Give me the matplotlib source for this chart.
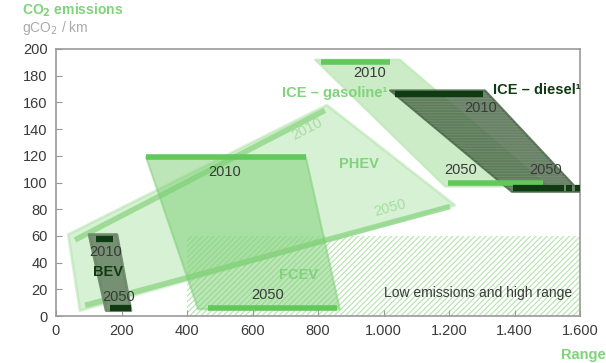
import matplotlib
matplotlib.use('Agg')
import matplotlib.pyplot as plt
from matplotlib.patches import Polygon, Rectangle

plt.rcParams['font.family'] = ['Liberation Sans', 'DejaVu Sans']

# area outlines (range km, gCO2/km)
PHEV_AREA     = [(37, 61), (827, 158), (1218, 83), (73, 4)]
FCEV_AREA     = [(275, 119), (763, 119), (867, 5), (434, 5)]
GASOLINE_AREA = [(791, 192), (1050, 192), (1502, 97), (1188, 97)]
DIESEL_AREA   = [(1020, 169), (1310, 169), (1600, 93), (1392, 93)]
BEV_AREA      = [(101, 61), (186, 61), (229, 4), (153, 4)]
LOW_AREA      = (400, 0, 1600, 60)

# 2010 / 2050 bars: (x0, x1, y)
GREEN_BARS = [(275, 763, 119), (464, 858, 6), (809, 1020, 190), (1197, 1487, 100)]
DARK_BARS  = [(1035, 1304, 166), (1395, 1550, 96), (1558, 1575, 96), (1585, 1600, 96),
              (122, 174, 58), (165, 229, 6)]
PHEV_LINES = [((58, 821), (57, 154)), ((89, 1203), (8, 82))]

XTICKS = [0, 200, 400, 600, 800, 1000, 1200, 1400, 1600]
XLABELS = ["0", "200", "400", "600", "800", "1.000", "1.200", "1.400", "1.600"]
YTICKS = list(range(0, 201, 20))

GREEN = '#62c85c'
LIGHT = '#7fd379'
DARK = '#0f3a12'
GREY_TXT = '#3a3a3a'

fig = plt.figure(figsize=(6.06, 3.63), dpi=100)
ax = fig.add_axes([56 / 606, 1 - 316 / 363, 524 / 606, 267 / 363])
ax.set_xlim(0, 1600)
ax.set_ylim(0, 200)

# hatched low emission zone
x0, y0, x1, y1 = LOW_AREA
plt.rcParams['hatch.linewidth'] = 0.8
ax.add_patch(Rectangle((x0, y0), x1 - x0, y1 - y0, facecolor='none',
                       edgecolor='#b3e3ac', hatch='//////', lw=0, zorder=1))

ax.add_patch(Polygon(PHEV_AREA, closed=True, facecolor='#a8e0a0', alpha=0.45,
                     edgecolor='#a8e0a0', lw=2, joinstyle='round', zorder=2))
for xs, ys in PHEV_LINES:
    ax.plot(xs, ys, color='#8fd688', lw=4, alpha=0.8, solid_capstyle='butt', zorder=2.5)

ax.add_patch(Polygon(FCEV_AREA, closed=True, facecolor='#7acf72', alpha=0.5,
                     edgecolor='#7acf72', lw=1.5, joinstyle='round', zorder=3))
ax.add_patch(Polygon(GASOLINE_AREA, closed=True, facecolor='#bfe8b8', alpha=0.8,
                     edgecolor='#bfe8b8', lw=1.5, joinstyle='round', zorder=3))
ax.add_patch(Polygon(DIESEL_AREA, closed=True, facecolor='#3f5e3c', alpha=0.78,
                     edgecolor='#3f5e3c', lw=1.5, joinstyle='round', zorder=4))
ax.add_patch(Polygon(DIESEL_AREA, closed=True, facecolor='none',
                     edgecolor='#8aa087', hatch='------', lw=0, alpha=0.4, zorder=4.1))
ax.add_patch(Polygon(BEV_AREA, closed=True, facecolor='#6a8767', alpha=0.9,
                     edgecolor='#6a8767', lw=2, joinstyle='round', zorder=4))

for a, b, y in GREEN_BARS:
    ax.plot([a, b], [y, y], color=GREEN, lw=4, solid_capstyle='butt', zorder=5)
for a, b, y in DARK_BARS:
    ax.plot([a, b], [y, y], color=DARK, lw=4.5, solid_capstyle='butt', zorder=5)

# labels
fs = 10.5
ax.text(516, 108, "2010", color=GREY_TXT, fontsize=fs, ha='center', va='center', zorder=6)
ax.text(647, 16, "2050", color=GREY_TXT, fontsize=fs, ha='center', va='center', zorder=6)
ax.text(740, 31, "FCEV", color=LIGHT, fontsize=fs, fontweight='bold', ha='center', va='center', zorder=6)
ax.text(765, 140, "2010", color='#a6dea0', fontsize=fs, ha='center', va='center', rotation=27, zorder=6)
ax.text(1020, 81, "2050", color='#a6dea0', fontsize=fs, ha='center', va='center', rotation=15, zorder=6)
ax.text(925, 114, "PHEV", color=LIGHT, fontsize=fs, fontweight='bold', ha='center', va='center', zorder=6)
ax.text(959, 182, "2010", color=GREY_TXT, fontsize=fs, ha='center', va='center', zorder=6)
ax.text(850, 167, "ICE \u2013 gasoline\u00b9", color=LIGHT, fontsize=fs, fontweight='bold',
        ha='center', va='center', zorder=6)
ax.text(1234, 109, "2050", color=GREY_TXT, fontsize=fs, ha='center', va='center', zorder=6)
ax.text(1468, 169, "ICE \u2013 diesel\u00b9", color=DARK, fontsize=fs, fontweight='bold',
        ha='center', va='center', zorder=6)
ax.text(1297, 156, "2010", color=GREY_TXT, fontsize=fs, ha='center', va='center', zorder=6)
ax.text(1495, 109, "2050", color=GREY_TXT, fontsize=fs, ha='center', va='center', zorder=6)
ax.text(153, 48, "2010", color=GREY_TXT, fontsize=fs, ha='center', va='center', zorder=6)
ax.text(158, 33, "BEV", color=DARK, fontsize=fs, fontweight='bold', ha='center', va='center', zorder=6)
ax.text(192, 14, "2050", color=GREY_TXT, fontsize=fs, ha='center', va='center', zorder=6)
ax.text(1575, 17, "Low emissions and high range", color=GREY_TXT, fontsize=fs - 0.5,
        ha='right', va='center', zorder=6)

ax.set_xticks(XTICKS)
ax.set_xticklabels(XLABELS)
ax.set_yticks(YTICKS)
ax.tick_params(direction='in', length=4, color='#999999', labelcolor=GREY_TXT,
               labelsize=10.5, pad=6)
for s in ax.spines.values():
    s.set_color('#999999')
    s.set_linewidth(1.2)

fig.text(22 / 606, 1 - 10 / 363, r"CO$_\mathbf{2}$ emissions", color=LIGHT, fontsize=10,
         fontweight='bold', ha='left', va='center')
fig.text(22 / 606, 1 - 28 / 363, r"gCO$_2$ / km", color='#aaaaaa', fontsize=10,
         ha='left', va='center')
fig.text(583 / 606, 1 - 355 / 363, "Range", color=LIGHT, fontsize=10.5, fontweight='bold',
         ha='center', va='center')

fig.savefig('out.png', dpi=100)
